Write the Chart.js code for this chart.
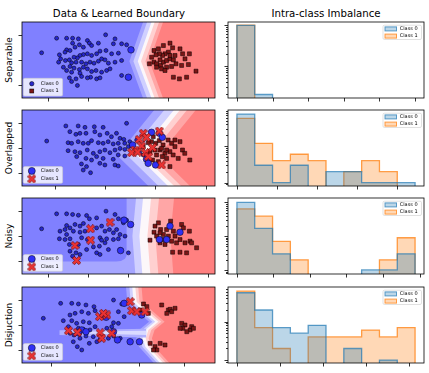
<!DOCTYPE html>
<html>
<head>
<meta charset="utf-8">
<title>Intra-class Imbalance</title>
<script src="https://cdn.jsdelivr.net/npm/chart.js@4.4.1/dist/chart.umd.min.js"></script>
<style>
  html, body { margin: 0; padding: 0; background: #fff; }
  body { position: relative; width: 429px; height: 373px; overflow: hidden; font-family: "DejaVu Sans", sans-serif; color: #000; }
  .panel { position: absolute; }
  .title { position: absolute; font-size: 10.2px; line-height: 10px; white-space: nowrap; transform: translateX(-50%); }
  .rowlabel { position: absolute; font-size: 9px; line-height: 9px; white-space: nowrap; transform: translate(-50%, -50%) rotate(-90deg); }
</style>
</head>
<body>
<div class="title" style="left:119px; top:8.8px;">Data &amp; Learned Boundary</div>
<div class="title" style="left:326px; top:8.8px;">Intra-class Imbalance</div>
<script>
const rowNames = ['Separable', 'Overlapped', 'Noisy', 'Disjuction'];
const classNames = ['Class 0', 'Class 1'];

// --- Separable
const sepBlue = [[-4.32,0.57],[-3.57,1.72],[-3.07,1.72],[-2.77,1.72],[-2.48,1.67],[-2.77,1.33],[-2.43,1.2],[-3.07,0.8],[-3.15,0.62],[-2.9,0.75],[-2.65,1.01],[-2.23,1.01],[-2.03,1.54],[-1.93,1.33],[-1.82,1.14],[-1.48,1.33],[-1.12,1.99],[-0.65,1.67],[-0.73,1.28],[-0.32,1.28],[-0.07,1.2],[-0.48,0.54],[-0.82,0.49],[-1.1,0.75],[-1.4,0.7],[-1.57,0.49],[-1.82,0.36],[-2.03,0.49],[-2.23,0.43],[-2.4,0.36],[-2.53,0.17],[-2.7,0.22],[-2.93,0.01],[-3.13,-0.04],[-3.43,0.41],[-3.37,0.09],[-3.47,-0.17],[-2.82,-0.22],[-2.6,-0.17],[-2.32,-0.17],[-2.1,-0.3],[-1.9,-0.17],[-1.7,-0.25],[-1.48,-0.09],[-1.32,0.09],[-1.15,0.01],[-0.98,-0.25],[-0.65,-0.17],[-0.32,-0.04],[-2.23,-0.57],[-2.43,-0.75],[-2.7,-0.64],[-2.9,-0.51],[-3.07,-0.83],[-3.23,-0.57],[-2.82,-0.96],[-2.4,-1.04],[-2.03,-0.7],[-1.82,-0.91],[-1.6,-0.83],[-1.32,-0.96],[-1.07,-0.83],[-0.9,-0.7],[-1.87,-1.36],[-1.57,-1.49],[-1.4,-1.41],[-2.03,-1.41],[-2.32,-1.3],[-2.6,-1.49],[-2.93,-1.41],[-2.82,-1.7],[-2.53,-2.01],[-0.32,-1.22]];
const sepBlueBig = [[0.15,0.8],[0.02,-1.36]];
const sepRed = [[1.3,0.75],[1.52,0.88],[1.77,1.14],[2.1,1.33],[2.23,0.96],[2.02,0.62],[1.85,0.49],[1.73,0.36],[1.57,0.49],[1.4,0.41],[1.18,0.22],[1.3,-0.17],[1.07,-0.3],[1.43,-0.3],[1.63,-0.43],[1.77,-0.17],[1.93,-0.04],[2.1,0.09],[2.27,0.01],[2.35,0.36],[2.6,0.88],[2.73,0.49],[2.85,0.09],[3.07,0.49],[2.68,-0.43],[3.02,-0.36],[2.4,-0.3],[2.18,-0.51],[1.93,-0.57],[1.68,-0.7],[1.85,-0.83],[2.27,-1.36],[2.57,-1.49],[2.93,-1.36],[3.4,-0.88],[1.43,-0.57],[1.6,0.01],[2.1,0.36]];
const sepRedBig = [];
const sepBoundary = [[1.32,3.3],[0.57,-0.1],[1.32,-3.3]];
const sepBands = [0.5, 0.3, 0.08, -0.08, -0.3, -0.5];
const sepHist0 = [98, 2, 0, 0, 0, 0, 0, 0, 0, 0];
const sepHist1 = [100, 0, 0, 0, 0, 0, 0, 0, 0, 0];

// --- Overlapped
const ovlBlue = [[-2.31,0.55],[-1.55,1.74],[-1.06,1.74],[-0.79,1.63],[-0.42,1.68],[-0.07,1.63],[0.86,1.95],[-1.39,1.29],[-1.15,1.08],[-0.99,1.16],[-0.75,1.16],[-0.4,1.29],[-0.2,1.03],[0.09,1.16],[0.26,0.89],[0.46,1.16],[0.6,0.76],[0.75,0.68],[-1.46,0.42],[-1.32,0.37],[-1.06,0.5],[-0.86,0.37],[-0.66,0.37],[-0.53,0.58],[-0.26,0.42],[-0.07,0.37],[0.13,0.5],[0.33,0.32],[0.53,0.37],[0.79,0.37],[0.99,0.5],[1.26,0.63],[-1.46,-0.21],[-1.19,-0.29],[-0.99,-0.37],[-0.7,-0.16],[-0.46,-0.42],[-0.2,-0.29],[0,-0.16],[0.2,-0.37],[0.4,-0.16],[0.6,-0.03],[0.79,-0.11],[0.93,0.11],[1.06,0.24],[-1.12,-0.68],[-0.75,-0.82],[-0.53,-0.95],[-0.33,-0.68],[-0.07,-0.82],[0.33,-0.89],[0.53,-0.55],[0.79,-0.63],[-0.93,-1.26],[-0.73,-1.47],[-0.86,-1.74],[-0.57,-1.95],[-0.2,-1.21],[0,-1.34],[0.4,-1.34],[0.53,-1.42],[1.39,-0.37],[1.52,-0.55]];
const ovlBlueBig = [[1.85,1.24],[2.16,1.16],[2.28,0.84],[1.1,0.24],[1.65,-0.89],[1.72,-1.21],[2.01,-1.34]];
const ovlRed = [[1.85,0.5],[2.02,0.37],[2.16,0.58],[2.31,0.24],[2.51,0.63],[2.65,0.37],[2.78,0.11],[2.98,0.5],[3.08,-0.16],[3.17,-0.42],[3.37,-0.95],[2.58,-0.29],[2.38,-0.42],[2.18,-0.16],[1.98,-0.16],[1.79,-0.29],[2.05,-0.55],[2.28,-0.68],[2.45,-0.82],[2.71,-0.55],[2.91,-0.82],[1.89,-0.95],[2.12,-1.08],[2.58,-1.47],[1.52,0.11],[1.72,0.42],[1.92,0.89],[2.45,-0.16],[2.78,0.63],[2.25,-0.03]];
const ovlRedBig = [[1.52,1.16],[1.65,0.84],[1.36,0.68],[1.46,0.16],[1.19,-0.16],[1.06,-0.37],[1.3,-0.32],[1.61,-0.37],[1.72,-0.68],[1.89,0.03],[2.16,1.34],[2.25,-1.34]];
const ovlBoundary = [[2.98,3.3],[1.39,-0.6],[2.78,-3.3]];
const ovlBands = [0.75, 0.4, 0.12, -0.12, -0.5, -0.9];
const ovlHist0 = [76, 3, 1, 3, 0, 2, 2, 1, 1, 1];
const ovlHist1 = [58, 12, 4, 6, 4, 0, 2, 4, 2, 0];

// --- Noisy
const noiBlue = [[-4.32,0.57],[-3.57,1.75],[-3.07,1.75],[-2.77,1.7],[-2.48,1.64],[-2.07,1.62],[-1.93,1.36],[-1.57,1.43],[-1.1,1.96],[-0.65,1.7],[-0.48,1.36],[-0.07,1.25],[-0.23,1.04],[-3.07,0.83],[-2.9,0.64],[-2.65,0.91],[-2.4,0.78],[-2.23,0.99],[-3.15,0.51],[-3.4,0.38],[-3.07,0.12],[-2.73,0.38],[-2.4,0.3],[-2.15,0.38],[-1.57,0.64],[-1.32,0.78],[-1.15,0.38],[-0.93,0.51],[-0.73,0.25],[-0.57,0.51],[-0.4,0.12],[-0.15,-0.01],[-3.43,-0.22],[-3.15,-0.28],[-2.9,-0.22],[-2.32,-0.14],[-2.03,-0.28],[-1.4,-0.14],[-1.32,-0.33],[-1.07,-0.22],[-0.73,-0.28],[-0.48,-0.22],[-2.93,-0.67],[-2.48,-0.67],[-2.07,-1.07],[-1.73,-0.86],[-1.43,-0.8],[-1.15,-0.54],[-0.98,-1.07],[-0.4,-1.07],[-2.9,-1.2],[-2.6,-1.33],[-2.77,-1.59],[-2.4,-1.46],[-1.57,-1.33],[-1.4,-1.46],[0.02,-1.33]];
const noiBlueBig = [[-0.2,1.25],[0.13,0.91],[-0.37,-1.15],[2.1,0.78],[2.6,0.3],[1.93,-0.28],[1.57,-0.28]];
const noiRed = [[1.1,-0.33],[1.3,0.3],[1.35,0.78],[1.52,1.04],[1.43,-0.01],[1.63,0.51],[1.77,0.12],[1.73,-0.28],[1.6,-0.54],[1.85,-0.67],[2.02,-0.01],[2.13,1.17],[2.27,0.38],[2.35,-0.01],[2.18,-0.41],[2.43,-0.54],[2.68,0.91],[2.77,0.64],[2.6,-0.28],[2.85,-0.54],[3.07,0.38],[3.1,-0.41],[3.18,-0.54],[3.43,-0.93],[2.23,-1.28],[2.6,-1.28],[2.93,-1.33],[1.6,0.25],[1.93,0.51]];
const noiRedBig = [[-1.87,0.57],[-1.87,-0.33],[-2.65,-0.75],[-0.9,1.09],[-2.57,-1.93]];
const noiBoundary = [[0.97,3.3],[0.77,0],[0.93,-3.3]];
const noiBands = [1.35, 0.6, 0.2, -0.2, -0.55, null];
const noiCore = [[-5.5,3.3],[-0.07,3.3],[-0.07,-1.55],[-0.15,-1.8],[-0.35,-1.97],[-0.6,-2.02],[-5.5,-2.02]];
const noiHist0 = [100, 17, 3, 0, 0, 0, 0, 1, 1, 3];
const noiHist1 = [64, 39, 7, 2, 0, 0, 0, 0, 2, 9];

// --- Disjuction
const disBlue = [[-2.33,0.53],[-1.55,1.71],[-1.05,1.71],[-0.75,1.66],[-0.41,1.58],[-0.05,1.45],[0.83,1.97],[1.2,1.66],[-1.13,0.79],[-0.9,0.92],[-0.6,1.05],[-0.3,0.92],[0,1.13],[1.05,1.05],[1.31,0.66],[-1.43,0.34],[-1.05,0.34],[-0.83,0.13],[-0.53,0.26],[-0.26,0.18],[0.83,0.18],[1.05,0.13],[-1.2,-0.13],[-0.75,-0.26],[-0.53,-0.34],[-0.23,-0.39],[0,-0.13],[0.53,-0.26],[0.75,-0.13],[-0.95,-0.79],[-0.68,-1.05],[-0.41,-0.87],[-0.08,-0.92],[0.23,-1.13],[0.6,-1.05],[0.83,-0.87],[-0.98,-1.32],[-0.8,-1.71],[-0.6,-1.97],[-0.26,-1.45],[0.08,-1.32],[-1.13,-0.66],[1.13,-1.05]];
const disBlueBig = [[-0.6,-0.39],[-0.41,-0.53],[1.01,-1.18],[1.58,-1.32],[2.0,-1.32],[1.31,1.71],[2.1,0.79],[0.5,0.61],[0.83,-0.53],[-0.75,-0.61]];
const disRed = [[3.0,1.58],[3.3,1.18],[3.38,1.24],[3.45,1.05],[3.6,1.32],[3.23,0.92],[3.9,0.13],[4.05,0],[3.95,-0.26],[4.28,-0.39],[4.35,-0.13],[4.43,-0.26],[4.13,-0.53],[3.83,-0.26],[2.48,-1.45],[2.7,-1.71],[2.78,-1.97],[2.93,-1.45],[3.15,-1.58],[2.63,-1.97],[2.18,1.66],[2.33,1.45],[2.03,1.18],[2.4,0.92]];
const disRedBig = [[-1.2,-0.45],[-0.8,-0.58],[0.2,0.66],[0.53,0.79],[0.23,-0.61],[0.75,-0.66],[0.3,-1.05],[1.58,1.84],[1.65,1.13],[1.88,1.05],[2.25,1.05],[0.38,0.92]];
const disBoundary = [[1.73,3.3],[1.8,1.84],[2.18,1.18],[2.78,0.26],[2.33,-0.39],[2.21,-1.05],[2.33,-1.71],[3.15,-3.3]];
const disBands = [0.35, 0.2, 0.07, -0.07, -0.2, -0.35];
const disStreakOuter = [[-1.6,-0.42],[0.5,-0.36],[2.3,-0.3],[2.3,-0.98],[0.5,-0.9],[-1.6,-0.78]];
const disStreakInner = [[-1.3,-0.55],[0.5,-0.5],[2.3,-0.46],[2.3,-0.78],[0.5,-0.72],[-1.3,-0.66]];
const disHist0 = [56, 20, 7, 5, 8, 0, 2, 0, 1, 0];
const disHist1 = [62, 7, 2, 0, 4, 4, 4, 6, 4, 7];

// histogram bins (bin index edges)
const histEdges = [0, 1, 2, 3, 4, 5, 6, 7, 8, 9, 10];

// axis ranges / ticks
const scatterXRange = [[-5.3, 4.35], [-3.29, 4.37], [-5.3, 4.35], [-3.29, 5.4]];
const scatterXTicks = [[-4, -2, 0, 2, 4], [-2, 0, 2, 4], [-4, -2, 0, 2, 4], [-2, 0, 2, 4]];
const scatterYTicks = [-2, 0, 2];
const histYRange = [[1.64, 119], [0.81, 98], [0.76, 135], [0.84, 79]];
const histXTicks = [[0, 2, 4, 6, 8, 10], [0, 2.25, 4.5, 6.75, 9], [0, 2.05, 4.1, 6.15, 8.2, 10.25], [0, 2.42, 4.84, 7.26, 9.68]];

// styles
const bandColors = ['#ffa6a6', '#ffd0d0', '#fcf7fa', '#d0d0ff', '#a6a6ff', '#8080ff'];
const redFull = '#ff8080';
const smallBlue = '#2727cc', bigBlue = '#3030f4', smallRed = '#7c1616';
const histFill = ['rgba(31,119,180,0.3)', 'rgba(255,127,14,0.3)'];
const histEdge = ['rgba(31,119,180,0.7)', 'rgba(255,127,14,0.75)'];

const rowTops = [22, 110, 198, 287];
const rowHeight = 76;

const rows = [
  { blue: sepBlue, blueBig: sepBlueBig, red: sepRed, redBig: sepRedBig, boundary: sepBoundary, bands: sepBands, extras: [], h0: sepHist0, h1: sepHist1 },
  { blue: ovlBlue, blueBig: ovlBlueBig, red: ovlRed, redBig: ovlRedBig, boundary: ovlBoundary, bands: ovlBands, extras: [], h0: ovlHist0, h1: ovlHist1 },
  { blue: noiBlue, blueBig: noiBlueBig, red: noiRed, redBig: noiRedBig, boundary: noiBoundary, bands: noiBands, extras: [{ points: noiCore, color: '#8080ff' }], h0: noiHist0, h1: noiHist1 },
  { blue: disBlue, blueBig: disBlueBig, red: disRed, redBig: disRedBig, boundary: disBoundary, bands: disBands,
    extras: [{ points: disStreakOuter, color: '#b0b0ff' }, { points: disStreakInner, color: '#dadaff' }], h0: disHist0, h1: disHist1 }
];

// filled "X" marker
function makeCross(size) {
  const c = document.createElement('canvas');
  c.width = size; c.height = size;
  const g = c.getContext('2d');
  const L = size * 0.5, w = size * 0.155;
  const pts = [[w,L],[w,w],[L,w],[L,-w],[w,-w],[w,-L],[-w,-L],[-w,-w],[-L,-w],[-L,w],[-w,w],[-w,L]];
  g.translate(size / 2, size / 2);
  g.rotate(Math.PI / 4);
  g.beginPath();
  pts.forEach(([x, y], i) => i ? g.lineTo(x, y) : g.moveTo(x, y));
  g.closePath();
  g.fillStyle = '#ec3434';
  g.fill();
  g.lineWidth = 0.6;
  g.strokeStyle = '#5a0000';
  g.stroke();
  return c;
}
const crossImg = makeCross(9);

function addCanvas(left, top, width, height) {
  const div = document.createElement('div');
  div.className = 'panel';
  div.style.left = (left - 6) + 'px';
  div.style.top = (top - 2) + 'px';
  div.style.width = (width + 8) + 'px';
  div.style.height = (height + 8) + 'px';
  const canvas = document.createElement('canvas');
  div.appendChild(canvas);
  document.body.appendChild(div);
  return canvas;
}

function legendFrame(ctx, x, y, w, h) {
  const r = 1.5;
  ctx.beginPath();
  ctx.moveTo(x + r, y);
  ctx.lineTo(x + w - r, y); ctx.arcTo(x + w, y, x + w, y + r, r);
  ctx.lineTo(x + w, y + h - r); ctx.arcTo(x + w, y + h, x + w - r, y + h, r);
  ctx.lineTo(x + r, y + h); ctx.arcTo(x, y + h, x, y + h - r, r);
  ctx.lineTo(x, y + r); ctx.arcTo(x, y, x + r, y, r);
  ctx.closePath();
  ctx.fillStyle = 'rgba(255,255,255,0.8)';
  ctx.fill();
  ctx.lineWidth = 0.6;
  ctx.strokeStyle = '#cccccc';
  ctx.stroke();
}

const framePluginFor = (xTicks, yTicks, logMinor) => ({
  id: 'frame',
  afterDraw(chart) {
    const { ctx, chartArea: a, scales } = chart;
    ctx.save();
    ctx.strokeStyle = '#000';
    ctx.lineWidth = 0.8;
    ctx.beginPath();
    xTicks.forEach(v => {
      const px = Math.round(scales.x.getPixelForValue(v)) + 0.5;
      ctx.moveTo(px, a.bottom);
      ctx.lineTo(px, a.bottom + 3.5);
    });
    yTicks.forEach(v => {
      const py = Math.round(scales.y.getPixelForValue(v)) + 0.5;
      let len = 3.5;
      if (logMinor) {
        const e = Math.log10(v);
        if (Math.abs(e - Math.round(e)) > 1e-6) len = 2;
      }
      ctx.moveTo(a.left, py);
      ctx.lineTo(a.left - len, py);
    });
    ctx.stroke();
    ctx.strokeRect(a.left, a.top, a.right - a.left, a.bottom - a.top);
    ctx.restore();
  }
});

const boundaryPluginFor = (row) => ({
  id: 'boundary',
  beforeDatasetsDraw(chart) {
    const { ctx, chartArea: a, scales: { x, y } } = chart;
    ctx.save();
    ctx.beginPath();
    ctx.rect(a.left, a.top, a.right - a.left, a.bottom - a.top);
    ctx.clip();
    ctx.fillStyle = redFull;
    ctx.fillRect(a.left, a.top, a.right - a.left, a.bottom - a.top);
    const poly = (pts, color) => {
      ctx.beginPath();
      pts.forEach(([px, py], i) => {
        const X = x.getPixelForValue(px), Y = y.getPixelForValue(py);
        i ? ctx.lineTo(X, Y) : ctx.moveTo(X, Y);
      });
      ctx.closePath();
      ctx.fillStyle = color;
      ctx.fill();
    };
    const b = row.boundary;
    row.bands.forEach((off, i) => {
      if (off === null) return;
      const pts = [[x.min - 1, b[0][1]]]
        .concat(b.map(([bx, by]) => [bx + off, by]))
        .concat([[x.min - 1, b[b.length - 1][1]]]);
      poly(pts, bandColors[i]);
    });
    row.extras.forEach(e => poly(e.points, e.color));
    ctx.restore();
  }
});

const scatterLegendFor = (big) => ({
  id: 'scatterLegend',
  afterDraw(chart) {
    const { ctx, chartArea: a } = chart;
    const w = 39.3, h = big ? 16.7 : 17.7;
    const left = a.left + 1.3, top = a.bottom - h - (big ? 2.7 : 2);
    ctx.save();
    legendFrame(ctx, left, top, w, h);
    const y0 = top + (big ? 4.3 : 5.4), gap = big ? 8 : 7.3;
    const mx = left + 8.5;
    ctx.beginPath();
    ctx.arc(mx, y0, big ? 3.5 : 2.2, 0, 2 * Math.PI);
    ctx.fillStyle = big ? bigBlue : smallBlue;
    ctx.fill();
    ctx.lineWidth = 0.5;
    ctx.strokeStyle = '#000';
    ctx.stroke();
    if (big) {
      ctx.drawImage(crossImg, mx - crossImg.width / 2, y0 + gap - crossImg.height / 2);
    } else {
      ctx.fillStyle = smallRed;
      ctx.fillRect(mx - 2, y0 + gap - 2, 4, 4);
      ctx.strokeRect(mx - 2, y0 + gap - 2, 4, 4);
    }
    ctx.fillStyle = '#000';
    ctx.font = '5px "DejaVu Sans"';
    ctx.textBaseline = 'middle';
    classNames.forEach((t, i) => ctx.fillText(t, left + 17.5, y0 + i * gap));
    ctx.restore();
  }
});

const histLegend = {
  id: 'histLegend',
  afterDraw(chart) {
    const { ctx, chartArea: a } = chart;
    const w = 38.5, h = 14.3, left = a.right - w - 2.5, top = a.top + 3.2;
    ctx.save();
    legendFrame(ctx, left, top, w, h);
    ctx.font = '5px "DejaVu Sans"';
    ctx.textBaseline = 'middle';
    classNames.forEach((t, i) => {
      const cy = top + 3.7 + i * 7.2;
      ctx.fillStyle = histFill[i];
      ctx.fillRect(left + 2, cy - 2, 11.5, 4);
      ctx.strokeStyle = histEdge[i];
      ctx.lineWidth = 1;
      ctx.strokeRect(left + 2, cy - 2, 11.5, 4);
      ctx.fillStyle = '#000';
      ctx.fillText(t, left + 16.7, cy);
    });
    ctx.restore();
  }
};

function baseOptions() {
  return {
    responsive: true,
    maintainAspectRatio: false,
    animation: false,
    events: [],
    layout: { padding: { left: 0, top: 2, right: 2, bottom: 0 }, autoPadding: false },
    plugins: { legend: { display: false }, tooltip: { enabled: false } }
  };
}

function hiddenAxis(extra, isX) {
  return Object.assign({
    grid: { display: false },
    border: { display: false },
    ticks: { display: false },
    afterFit: isX ? (s) => { s.height = 6; } : (s) => { s.width = 6; }
  }, extra);
}

function stepPoints(counts) {
  const floor = 1e-3;
  const v = c => (c > 0 ? c : floor);
  const pts = [[histEdges[0], floor]];
  counts.forEach((c, i) => pts.push([histEdges[i], v(c)]));
  pts.push([histEdges[counts.length], v(counts[counts.length - 1])]);
  pts.push([histEdges[counts.length], floor]);
  return pts;
}

function logTicks(min, max) {
  const out = [];
  for (let k = -1; k <= 3; k++) {
    for (let m = 1; m <= 9; m++) {
      const t = m * Math.pow(10, k);
      if (t >= min && t <= max) out.push(t);
    }
  }
  return out;
}

rows.forEach((row, r) => {
  const top = rowTops[r];

  // label
  const lab = document.createElement('div');
  lab.className = 'rowlabel';
  lab.textContent = rowNames[r];
  lab.style.left = '8.6px';
  lab.style.top = (top + rowHeight / 2) + 'px';
  document.body.appendChild(lab);

  // left: data & boundary
  const sc = addCanvas(22, top, 193, rowHeight);
  const big = r > 0;
  const sOpts = baseOptions();
  sOpts.scales = {
    x: hiddenAxis({ type: 'linear', min: scatterXRange[r][0], max: scatterXRange[r][1] }, true),
    y: hiddenAxis({ type: 'linear', min: -3, max: 3 }, false)
  };
  new Chart(sc, {
    type: 'scatter',
    data: {
      datasets: [
        { label: 'Class 1 (highlighted)', data: row.redBig, pointStyle: crossImg, pointRadius: 4.5, order: 0 },
        { label: 'Class 0 (highlighted)', data: row.blueBig, pointRadius: 3.3, pointBackgroundColor: bigBlue, pointBorderColor: '#000', pointBorderWidth: 0.5, order: 1 },
        { label: classNames[1], data: row.red, pointStyle: 'rect', pointRadius: 2.8, pointBackgroundColor: smallRed, pointBorderColor: '#000', pointBorderWidth: 0.5, order: 2 },
        { label: classNames[0], data: row.blue, pointRadius: 2, pointBackgroundColor: smallBlue, pointBorderColor: '#000', pointBorderWidth: 0.5, order: 3 }
      ]
    },
    options: sOpts,
    plugins: [boundaryPluginFor(row), framePluginFor(scatterXTicks[r], scatterYTicks, false), scatterLegendFor(big)]
  });

  // right: intra-class imbalance histogram (class 0 drawn over class 1)
  const hc = addCanvas(228, top, 196, rowHeight);
  const [yMin, yMax] = histYRange[r];
  const hOpts = baseOptions();
  hOpts.scales = {
    x: hiddenAxis({ type: 'linear', min: -0.5, max: 10.5 }, true),
    y: hiddenAxis({ type: 'logarithmic', min: yMin, max: yMax }, false)
  };
  new Chart(hc, {
    type: 'line',
    data: {
      datasets: [row.h0, row.h1].map((counts, i) => ({
        label: classNames[i],
        data: stepPoints(counts),
        stepped: 'before',
        fill: 'start',
        backgroundColor: histFill[i],
        borderColor: histEdge[i],
        borderWidth: 1.3,
        pointRadius: 0,
        order: i
      }))
    },
    options: hOpts,
    plugins: [framePluginFor(histXTicks[r], logTicks(yMin, yMax), true), histLegend]
  });
});
</script>
</body>
</html>
